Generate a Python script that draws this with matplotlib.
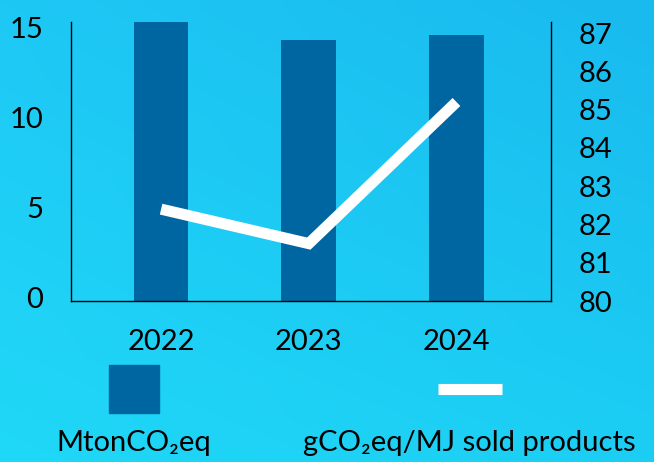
import numpy as np
import matplotlib
matplotlib.use('Agg')
import matplotlib.pyplot as plt
import matplotlib.transforms as mtransforms
from matplotlib.patches import Rectangle
from matplotlib.lines import Line2D

plt.rcParams['font.family'] = ['Lato', 'DejaVu Sans']

# Emissions data
years = ['2022', '2023', '2024']
mton_co2eq = [15.5, 14.5, 14.8]
g_per_mj = [82.4, 81.5, 85.2]

bar_color = '#0066a1'
fs = 21

fig = plt.figure(figsize=(6.54, 4.62), dpi=100)

# Soft cyan gradient behind everything
bg = fig.add_axes([0, 0, 1, 1], zorder=-10)
corners = np.array([[[30, 200, 245], [25, 186, 238]],
                    [[32, 216, 247], [28, 206, 244]]], dtype=float) / 255
yy, xx = np.mgrid[0:1:120j, 0:1:160j]
grad = ((1 - yy)[..., None] * ((1 - xx)[..., None] * corners[0, 0] + xx[..., None] * corners[0, 1])
        + yy[..., None] * ((1 - xx)[..., None] * corners[1, 0] + xx[..., None] * corners[1, 1]))
bg.imshow(grad, aspect='auto', extent=[0, 1, 0, 1], interpolation='bicubic')
bg.axis('off')

ax = fig.add_axes([71 / 654, 161 / 462, 480 / 654, 279 / 462])
ax.patch.set_alpha(0)
x = np.arange(len(years))
ax.bar(x, mton_co2eq, width=0.37, color=bar_color, zorder=2)
ax.set_xlim(-0.61, 2.64)
ax.set_ylim(0, 15.5)
ax.set_yticks([0, 5, 10, 15])
ax.set_xticks(x)
ax.set_xticklabels(years)
ax.tick_params(axis='both', length=0, labelsize=fs, pad=20)
ax.spines['top'].set_visible(False)
ax.spines['right'].set_visible(False)
for s in ['left', 'bottom']:
    ax.spines[s].set_linewidth(1.0)

# nudge left labels up a little
lift = mtransforms.ScaledTranslation(0, 3 / 100, fig.dpi_scale_trans)
for lbl in ax.get_yticklabels():
    lbl.set_transform(lbl.get_transform() + lift)

ax2 = ax.twinx()
ax2.plot(x, g_per_mj, color='white', linewidth=8, solid_capstyle='butt',
         solid_joinstyle='miter', zorder=3)
ax2.set_ylim(80, 87.29)
ax2.set_yticks(range(80, 88))
ax2.tick_params(axis='y', length=0, labelsize=fs, pad=20)
ax2.spines['top'].set_visible(False)
ax2.spines['left'].set_visible(False)
ax2.spines['bottom'].set_visible(False)
ax2.spines['right'].set_linewidth(1.0)

# Legend below the plot, labels centred under their keys
fig.patches.append(Rectangle((109 / 654, (462 - 413) / 462), 50 / 654, 48 / 462,
                             transform=fig.transFigure, color=bar_color))
fig.lines.append(Line2D([438 / 654, 502 / 654], [(462 - 388.5) / 462] * 2,
                        transform=fig.transFigure, color='white', linewidth=8,
                        solid_capstyle='butt'))
fig.text(134 / 654, (462 - 451) / 462, 'MtonCO₂eq', fontsize=fs,
         ha='center', va='baseline')
fig.text(469 / 654, (462 - 451) / 462, 'gCO₂eq/MJ sold products', fontsize=fs,
         ha='center', va='baseline')

fig.savefig('out.png', dpi=100)
